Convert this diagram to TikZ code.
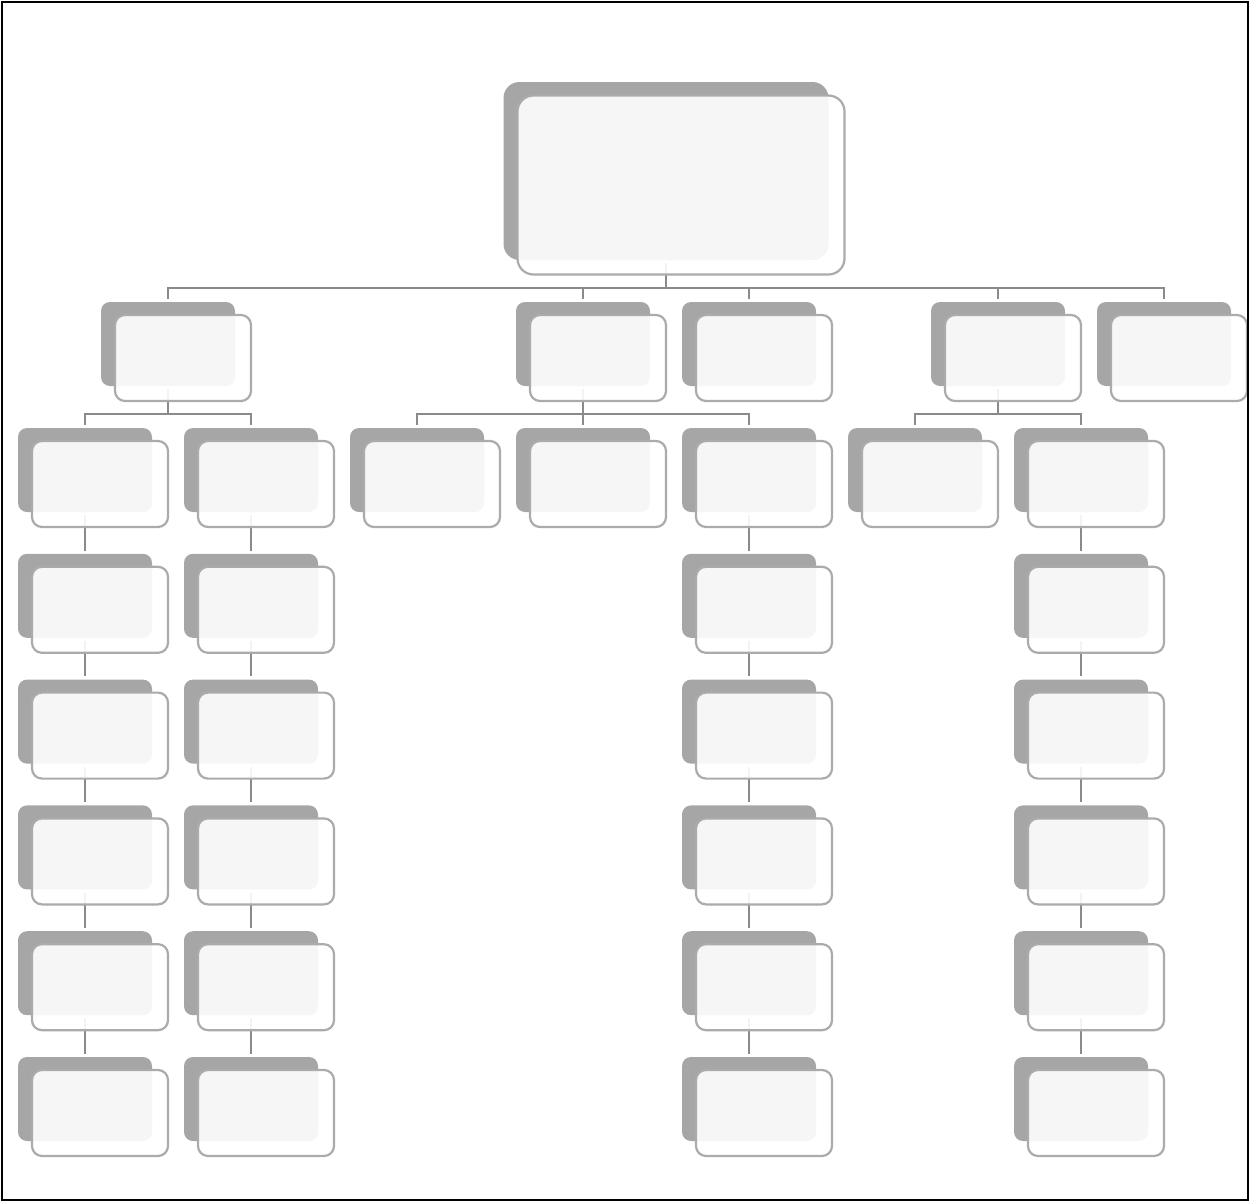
\documentclass[tikz,border=0pt]{standalone}
\usetikzlibrary{positioning,calc}
\definecolor{shade}{HTML}{A6A6A6}
\definecolor{rim}{HTML}{ABABAB}
\definecolor{wire}{HTML}{8A8A8A}

\begin{document}
\begin{tikzpicture}[
  x=1pt, y=-1pt,
  back/.style={fill=shade, rounded corners=9pt, inner sep=0pt, minimum width=134pt, minimum height=84pt},
  card/.style={draw=rim, line width=2.2pt, fill=white, fill opacity=0.9, rounded corners=10pt, inner sep=0pt, minimum width=136pt, minimum height=86pt},
  link/.style={draw=wire, line width=2pt, shorten <=3pt, shorten >=3pt}
]
\useasboundingbox (0,0) rectangle (1250,1202);

% shadows
\node[back, rounded corners=16pt, minimum width=325pt, minimum height=178pt] (top) at (666,171) {};
\foreach \n/\x in {a/168, b/583, c/749, d/998, e/1164}
  \node[back] (\n) at (\x,344) {};
\foreach \n/\x in {a1/85, a2/251, b3/749, d2/1081}
  \foreach \r in {1,...,6}
    \node[back] (\n-\r) at (\x,{470+125.8*(\r-1)}) {};
\foreach \n/\x in {b1/417, b2/583, d1/915}
  \node[back] (\n-1) at (\x,470) {};

% connectors
\foreach \n in {a,b,c,d,e}
  \draw[link] (top.south) -- ++(0,28) -| (\n.north);
\foreach \p/\c in {a/a1, a/a2, b/b1, b/b2, b/b3, d/d1, d/d2}
  \draw[link] (\p.south) -- ++(0,28) -| (\c-1.north);
\foreach \n in {a1,a2,b3,d2}
  \foreach \r [remember=\r as \q (initially 1)] in {2,...,6}
    \draw[link] (\n-\q) -- (\n-\r);

% front cards
\node[card, rounded corners=16pt, minimum width=327pt, minimum height=179pt] (top-f) at ([shift={(15,14)}]top) {};
\foreach \n in {a,b,c,d,e,b1-1,b2-1,d1-1}
  \node[card] (\n-f) at ([shift={(15,14)}]\n) {};
\foreach \n in {a1,a2,b3,d2}
  \foreach \r in {1,...,6}
    \node[card] (\n-\r-f) at ([shift={(15,14)}]\n-\r) {};

\draw[line width=1.6pt] (2,2) rectangle (1248,1200);
\end{tikzpicture}
\end{document}
